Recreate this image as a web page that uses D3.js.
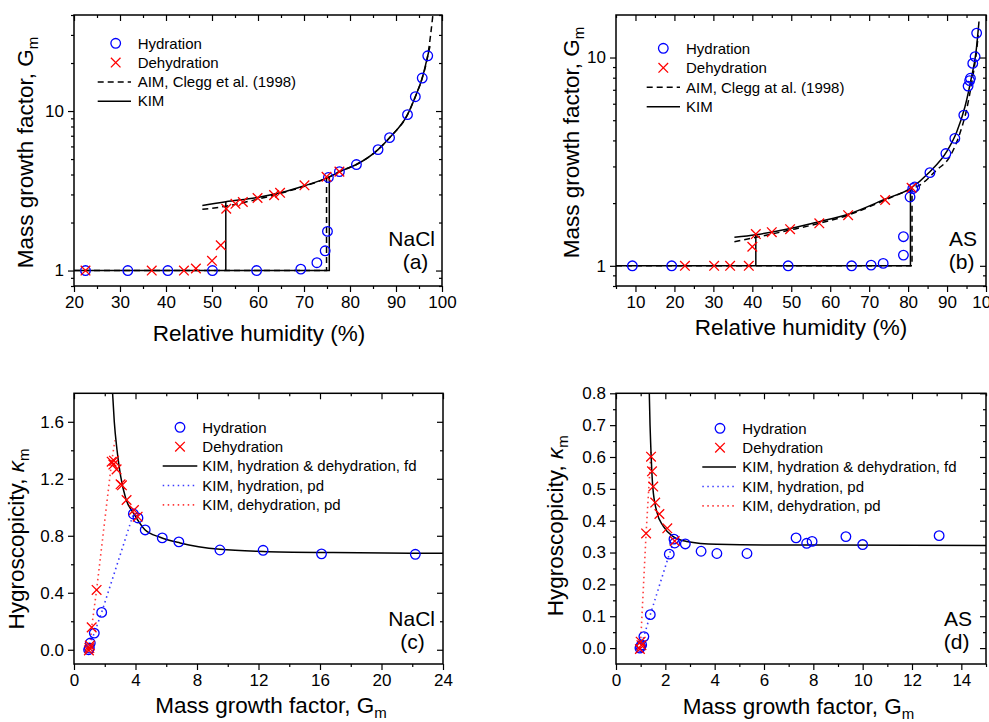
<!DOCTYPE html>
<html>
<head>
<meta charset="utf-8">
<script src="https://cdn.jsdelivr.net/npm/d3@7"></script>
<style>
  body { margin: 0; background: #fff; }
  svg { display: block; }
</style>
</head>
<body>
<div id="wrapper"></div>
<script>
// ---- values ----

// (a) NaCl: mass growth factor vs relative humidity, [RH %, Gm]
const naclHydration = [[22.5,1.0],[31.7,1.0],[40.4,1.0],[50.1,1.0],[59.7,1.0],[69.3,1.02],[72.8,1.12],[74.6,1.33],[75.1,1.76],[75.3,3.83],[77.7,4.17],[81.4,4.62],[86.1,5.73],[88.6,6.81],[92.5,9.49],[94.2,12.3],[95.7,16.1],[96.9,22.2]]
const naclDehydration = [[22.5,1.0],[36.9,1.0],[43.9,1.0],[46.5,1.03],[50.0,1.15],[51.9,1.44],[53.1,2.44],[55.1,2.62],[56.7,2.69],[59.9,2.85],[63.5,2.97],[64.8,3.07],[70.1,3.42],[74.9,3.87],[77.7,4.17]]
const naclKimCurve = [[47.9,2.56],[53.0,2.70],[59.9,2.87],[64.8,3.07],[70.1,3.40],[75.4,3.85],[77.7,4.17],[81.4,4.62],[86.1,5.73],[88.6,6.81],[92.5,9.49],[94.2,12.3],[95.7,16.1],[96.9,22.2],[97.4,25.5]]
const naclKimLower = [[20,1],[75.5,1],[75.5,3.85]]
const naclKimEfflorescence = [[53.0,1],[53.0,2.70]]
const naclAimCurve = [[47.9,2.42],[53.0,2.53],[59.9,2.80],[64.8,3.04],[70.1,3.38],[75.4,3.85],[77.7,4.17],[81.4,4.62],[86.1,5.73],[88.6,6.81],[92.5,9.49],[94.2,12.3],[95.7,16.1],[96.9,22.2],[98.1,42]]
const naclAimLower = [[20,1],[74.9,1],[74.9,3.85]]

// (b) AS: mass growth factor vs relative humidity, [RH %, Gm]
const asHydration = [[9.2,1.0],[19.3,1.0],[49.2,1.0],[65.5,1.0],[70.5,1.008],[73.6,1.027],[78.8,1.126],[78.8,1.38],[80.5,2.14],[81.2,2.35],[81.7,2.39],[85.6,2.80],[89.7,3.46],[92.0,4.09],[94.3,5.29],[95.4,7.29],[95.8,7.75],[96.0,7.95],[96.6,9.37],[97.2,10.1],[97.6,13.1]]
const asDehydration = [[22.7,1.0],[30.2,1.0],[34.3,1.0],[39.1,1.0],[40.0,1.235],[40.9,1.42],[45.0,1.45],[49.7,1.50],[57.2,1.60],[64.6,1.75],[74.1,2.07],[80.9,2.37]]
const asKimCurve = [[35.4,1.37],[40.9,1.41],[49.7,1.51],[57.2,1.63],[64.6,1.77],[74.1,2.09],[80.5,2.35],[85.6,2.83],[89.9,3.53],[92.5,4.40],[94.6,5.80],[96.3,8.1],[97.4,10.5],[98.2,14.9]]
const asKimLower = [[5,1],[80.6,1],[80.6,2.35]]
const asKimEfflorescence = [[40.9,1],[40.9,1.41]]
const asAimCurve = [[35.4,1.305],[40.9,1.37],[49.7,1.485],[57.2,1.60],[64.6,1.75],[74.1,2.07],[80.5,2.33],[83.0,2.44],[87.3,2.88],[90.7,3.34],[93.3,4.33],[95.0,5.6],[96.3,7.5],[97.6,10.9],[98.0,12.8]]
const asAimLower = [[5,1],[81.0,1],[81.0,2.33]]

// (c) NaCl: hygroscopicity vs mass growth factor, [Gm, kappa]
const naclKappaHydration = [[0.95,0.0],[1.0,0.012],[1.06,0.047],[1.32,0.117],[1.80,0.262],[3.86,0.953],[4.16,0.925],[4.63,0.841],[5.74,0.785],[6.82,0.757],[9.49,0.70],[12.3,0.698],[16.1,0.673],[22.2,0.670]]
const naclKappaDehydration = [[0.97,-0.005],[1.0,0.012],[1.03,0.03],[1.15,0.157],[1.47,0.42],[2.45,1.32],[2.60,1.327],[2.56,1.30],[2.77,1.266],[3.03,1.161],[3.12,1.154],[3.42,1.051],[3.90,0.981],[4.14,0.934]]
const naclKimFd = [[2.51,1.80],[2.62,1.60],[2.80,1.40],[3.03,1.22],[3.37,1.06],[3.86,0.96],[4.63,0.84],[5.6,0.79],[6.9,0.75],[9.5,0.705],[12.3,0.69],[16.85,0.682],[24,0.677]]
const naclKimHydPd = [[0.95,0.0],[1.06,0.047],[1.32,0.117],[1.80,0.262],[3.86,0.953]]
const naclKimDehPd = [[0.95,0.0],[1.04,0.03],[1.15,0.157],[1.47,0.42],[2.45,1.32],[2.66,1.47]]

// (d) AS: hygroscopicity vs mass growth factor, [Gm, kappa]
const asKappaHydration = [[0.97,0.0],[1.0,0.005],[1.04,0.01],[1.13,0.036],[1.39,0.105],[2.16,0.295],[2.35,0.342],[2.38,0.33],[2.81,0.327],[3.45,0.304],[4.09,0.297],[5.31,0.297],[7.30,0.346],[7.73,0.329],[7.95,0.335],[9.32,0.35],[10.0,0.325],[13.1,0.353]]
const asKappaDehydration = [[0.97,-0.003],[1.03,0.009],[1.0,0.02],[1.22,0.36],[1.42,0.601],[1.46,0.555],[1.51,0.507],[1.59,0.457],[1.76,0.421],[2.08,0.376],[2.38,0.336]]
const asKimFd = [[1.35,0.80],[1.38,0.70],[1.41,0.633],[1.49,0.507],[1.65,0.429],[1.92,0.382],[2.32,0.350],[2.86,0.335],[4.08,0.326],[6.1,0.324],[8.8,0.324],[15,0.322]]
const asKimHydPd = [[0.97,0.0],[1.13,0.036],[1.39,0.105],[2.16,0.295],[2.40,0.345]]
const asKimDehPd = [[0.97,0.0],[1.0,0.02],[1.22,0.36],[1.42,0.62]]

// ticks
const rhMajorA = [20,30,40,50,60,70,80,90,100]
const rhMinorA = [25,35,45,55,65,75,85,95]
const rhMajorB = [10,20,30,40,50,60,70,80,90,100]
const rhMinorB = [5,15,25,35,45,55,65,75,85,95]
const gLogMajor = [1,10]
const gLogMinorA = [0.8,0.9,2,3,4,5,6,7,8,9,20,30,40]
const gLogMinorB = [0.8,0.9,2,3,4,5,6,7,8,9]
const gMajorC = [0,4,8,12,16,20,24]
const gMinorC = [2,6,10,14,18,22]
const kappaMajorC = [0,0.4,0.8,1.2,1.6]
const kappaMinorC = [0.2,0.6,1.0,1.4]
const gMajorD = [0,2,4,6,8,10,12,14]
const gMinorD = [1,3,5,7,9,11,13,15]
const kappaMajorD = [0,0.1,0.2,0.3,0.4,0.5,0.6,0.7,0.8]
const kappaMinorD = [0.05,0.15,0.25,0.35,0.45,0.55,0.65,0.75]

// legend texts
const legendTop = ["Hydration", "Dehydration", "AIM, Clegg et al. (1998)", "KIM"]
const legendTopB = ["Hydration", "Dehydration", "AIM, Clegg at al. (1998)", "KIM"]
const legendBottom = ["Hydration", "Dehydration", "KIM, hydration & dehydration, fd", "KIM, hydration, pd", "KIM, dehydration, pd"]

// ---- drawing ----

const FONT = '"Liberation Sans", Arial, Helvetica, sans-serif'
const BLUE = "#0000ff"
const RED = "#ff0000"

const styles = {
  solid: { color: "#000", dash: null, width: 1.5 },
  dashed: { color: "#000", dash: "6,4", width: 1.5 },
  dotBlue: { color: "#3a3aff", dash: "1.5,3.5", width: 1.6 },
  dotRed: { color: "#ff3a3a", dash: "1.5,3.5", width: 1.6 },
}

const svg = d3.select("#wrapper")
  .append("svg")
    .attr("width", 989)
    .attr("height", 722)
    .style("font-family", FONT)

function drawPanel(cfg) {
  const box = cfg.box

  const xScale = d3.scaleLinear()
    .domain(cfg.xDomain)
    .range([box.left, box.right])
  const yScale = (cfg.logY ? d3.scaleLog() : d3.scaleLinear())
    .domain(cfg.yDomain)
    .range([box.bottom, box.top])

  const panel = svg.append("g")
  panel.append("clipPath")
      .attr("id", "clip-" + cfg.id)
    .append("rect")
      .attr("x", box.left)
      .attr("y", box.top)
      .attr("width", box.right - box.left)
      .attr("height", box.bottom - box.top)
  const plot = panel.append("g").attr("clip-path", `url(#clip-${cfg.id})`)

  const straight = d3.line().x(d => xScale(d[0])).y(d => yScale(d[1]))
  const smooth = d3.line().x(d => xScale(d[0])).y(d => yScale(d[1])).curve(d3.curveMonotoneX)

  // lines
  cfg.lines.forEach(l => {
    const st = styles[l.style]
    plot.append("path")
      .datum(l.data)
      .attr("d", l.smooth ? smooth : straight)
      .attr("fill", "none")
      .attr("stroke", st.color)
      .attr("stroke-width", st.width)
      .attr("stroke-dasharray", st.dash)
  })

  // markers
  plot.selectAll("circle.hyd")
    .data(cfg.hydration)
    .join("circle")
      .attr("class", "hyd")
      .attr("cx", d => xScale(d[0]))
      .attr("cy", d => yScale(d[1]))
      .attr("r", 4.8)
      .attr("fill", "none")
      .attr("stroke", BLUE)
      .attr("stroke-width", 1.3)

  plot.selectAll("path.deh")
    .data(cfg.dehydration)
    .join("path")
      .attr("class", "deh")
      .attr("d", d => crossPath(xScale(d[0]), yScale(d[1])))
      .attr("fill", "none")
      .attr("stroke", RED)
      .attr("stroke-width", 1.3)

  // axes: labelled bottom/left with outward ticks, mirrored top/right inward
  const blank = () => ""
  const addAxis = (axis, transform, values, size, fmt) => {
    const g = panel.append("g")
        .attr("transform", transform)
      .call(axis.tickValues(values).tickSizeInner(size).tickSizeOuter(0).tickPadding(4).tickFormat(fmt))
    g.select(".domain").remove()
    g.attr("font-family", null).attr("font-size", null)
    g.selectAll("line").attr("stroke", "#000").attr("stroke-width", 1.2)
    g.selectAll("text").attr("fill", "#000").style("font-size", "17px")
  }
  addAxis(d3.axisBottom(xScale), `translate(0,${box.bottom})`, cfg.xMinor, 3, blank)
  addAxis(d3.axisBottom(xScale), `translate(0,${box.bottom})`, cfg.xMajor, 6, cfg.xFormat)
  addAxis(d3.axisTop(xScale), `translate(0,${box.top})`, cfg.xMinor, -3, blank)
  addAxis(d3.axisTop(xScale), `translate(0,${box.top})`, cfg.xMajor, -6, blank)
  addAxis(d3.axisLeft(yScale), `translate(${box.left},0)`, cfg.yMinor, 3, blank)
  addAxis(d3.axisLeft(yScale), `translate(${box.left},0)`, cfg.yMajor, 6, cfg.yFormat)
  addAxis(d3.axisRight(yScale), `translate(${box.right},0)`, cfg.yMinor, -3, blank)
  addAxis(d3.axisRight(yScale), `translate(${box.right},0)`, cfg.yMajor, -6, blank)

  panel.append("rect")
      .attr("x", box.left)
      .attr("y", box.top)
      .attr("width", box.right - box.left)
      .attr("height", box.bottom - box.top)
      .attr("fill", "none")
      .attr("stroke", "#000")
      .attr("stroke-width", 1.5)

  // legend
  const L = cfg.legendPos
  const legend = panel.append("g").style("font-size", "15px")
  cfg.legend.forEach((entry, i) => {
    const y = L.y0 + i * L.dy
    if (entry.type === "circle") {
      legend.append("circle")
          .attr("cx", L.symX).attr("cy", y).attr("r", 4.8)
          .attr("fill", "none").attr("stroke", BLUE).attr("stroke-width", 1.3)
    } else if (entry.type === "cross") {
      legend.append("path")
          .attr("d", crossPath(L.symX, y))
          .attr("fill", "none").attr("stroke", RED).attr("stroke-width", 1.3)
    } else {
      const st = styles[entry.type]
      legend.append("line")
          .attr("x1", L.lineX0).attr("x2", L.lineX1)
          .attr("y1", y).attr("y2", y)
          .attr("stroke", st.color)
          .attr("stroke-width", st.width)
          .attr("stroke-dasharray", st.dash)
    }
    legend.append("text")
        .attr("x", L.textX)
        .attr("y", y)
        .attr("dy", "0.35em")
        .attr("fill", "#000")
        .text(entry.label)
  })

  // sample name and panel letter
  panel.append("text")
      .attr("x", cfg.tag.x).attr("y", cfg.tag.y)
      .attr("text-anchor", "end")
      .style("font-size", "21px")
      .text(cfg.tag.name)
  panel.append("text")
      .attr("x", cfg.tag.x2).attr("y", cfg.tag.y + 23)
      .attr("text-anchor", "middle")
      .style("font-size", "21px")
      .text(cfg.tag.letter)

  // axis titles
  const xt = panel.append("text")
      .attr("x", cfg.xTitle.x).attr("y", cfg.xTitle.y)
      .attr("text-anchor", "middle")
      .style("font-size", "22.5px")
  xt.append("tspan").text(cfg.xTitle.text)
  if (cfg.xTitle.sub) xt.append("tspan").attr("dy", "0.32em").style("font-size", "15px").text(cfg.xTitle.sub)

  const yt = panel.append("text")
      .attr("transform", `translate(${cfg.yTitle.x},${cfg.yTitle.y}) rotate(-90)`)
      .attr("text-anchor", "middle")
      .style("font-size", "22.5px")
  yt.append("tspan").text(cfg.yTitle.text)
  if (cfg.yTitle.greek) yt.append("tspan").style("font-style", "italic").text(cfg.yTitle.greek)
  yt.append("tspan").attr("dy", "0.32em").style("font-size", "15px").text(cfg.yTitle.sub)
}

function crossPath(cx, cy) {
  const s = 4.8
  return `M${cx - s},${cy - s}L${cx + s},${cy + s}M${cx - s},${cy + s}L${cx + s},${cy - s}`
}

const legendTypesTop = ["circle", "cross", "dashed", "solid"]
const legendTypesBottom = ["circle", "cross", "solid", "dotBlue", "dotRed"]

// (a)
drawPanel({
  id: "a",
  box: { left: 74, right: 442, top: 15, bottom: 286 },
  xDomain: [20, 100], yDomain: [0.8, 40], logY: true,
  xMajor: rhMajorA, xMinor: rhMinorA, yMajor: gLogMajor, yMinor: gLogMinorA,
  xFormat: d => d, yFormat: d => d,
  hydration: naclHydration, dehydration: naclDehydration,
  lines: [
    { data: naclAimLower, style: "dashed" },
    { data: naclAimCurve, style: "dashed", smooth: true },
    { data: naclKimLower, style: "solid" },
    { data: naclKimEfflorescence, style: "solid" },
    { data: naclKimCurve, style: "solid", smooth: true },
  ],
  legend: legendTop.map((label, i) => ({ label, type: legendTypesTop[i] })),
  legendPos: { symX: 115.7, lineX0: 97.7, lineX1: 131, textX: 137.7, y0: 43.3, dy: 19.3 },
  tag: { name: "NaCl", letter: "(a)", x: 435, x2: 415.5, y: 246 },
  xTitle: { text: "Relative humidity (%)", x: 259, y: 341 },
  yTitle: { text: "Mass growth factor,  G", sub: "m", x: 33, y: 152.5 },
})

// (b)
drawPanel({
  id: "b",
  box: { left: 616, right: 986, top: 15, bottom: 286 },
  xDomain: [5, 100], yDomain: [0.8, 16], logY: true,
  xMajor: rhMajorB, xMinor: rhMinorB, yMajor: gLogMajor, yMinor: gLogMinorB,
  xFormat: d => d, yFormat: d => d,
  hydration: asHydration, dehydration: asDehydration,
  lines: [
    { data: asAimLower, style: "dashed" },
    { data: asAimCurve, style: "dashed", smooth: true },
    { data: asKimLower, style: "solid" },
    { data: asKimEfflorescence, style: "solid" },
    { data: asKimCurve, style: "solid", smooth: true },
  ],
  legend: legendTopB.map((label, i) => ({ label, type: legendTypesTop[i] })),
  legendPos: { symX: 663.3, lineX0: 646.7, lineX1: 680, textX: 686, y0: 48.3, dy: 19.5 },
  tag: { name: "AS", letter: "(b)", x: 977, x2: 961.7, y: 246 },
  xTitle: { text: "Relative humidity (%)", x: 801, y: 334.5 },
  yTitle: { text: "Mass growth factor,  G", sub: "m", x: 578.8, y: 142.5 },
})

// (c)
drawPanel({
  id: "c",
  box: { left: 74, right: 443, top: 393.3, bottom: 664 },
  xDomain: [0, 24], yDomain: [-0.1, 1.8], logY: false,
  xMajor: gMajorC, xMinor: gMinorC, yMajor: kappaMajorC, yMinor: kappaMinorC,
  xFormat: d => d, yFormat: d3.format(".1f"),
  hydration: naclKappaHydration, dehydration: naclKappaDehydration,
  lines: [
    { data: naclKimHydPd, style: "dotBlue" },
    { data: naclKimDehPd, style: "dotRed" },
    { data: naclKimFd, style: "solid", smooth: true },
  ],
  legend: legendBottom.map((label, i) => ({ label, type: legendTypesBottom[i] })),
  legendPos: { symX: 180, lineX0: 162.7, lineX1: 197.3, textX: 202.3, y0: 427.3, dy: 19.4 },
  tag: { name: "NaCl", letter: "(c)", x: 435, x2: 412.5, y: 626 },
  xTitle: { text: "Mass growth factor, G", sub: "m", x: 271, y: 712.8 },
  yTitle: { text: "Hygroscopicity,  ", greek: "\u03ba", sub: "m", x: 24.4, y: 539 },
})

// (d)
drawPanel({
  id: "d",
  box: { left: 616, right: 986, top: 393.3, bottom: 664 },
  xDomain: [0, 15], yDomain: [-0.05, 0.8], logY: false,
  xMajor: gMajorD, xMinor: gMinorD, yMajor: kappaMajorD, yMinor: kappaMinorD,
  xFormat: d => d, yFormat: d3.format(".1f"),
  hydration: asKappaHydration, dehydration: asKappaDehydration,
  lines: [
    { data: asKimHydPd, style: "dotBlue" },
    { data: asKimDehPd, style: "dotRed" },
    { data: asKimFd, style: "solid", smooth: true },
  ],
  legend: legendBottom.map((label, i) => ({ label, type: legendTypesBottom[i] })),
  legendPos: { symX: 720, lineX0: 702.3, lineX1: 736, textX: 742.3, y0: 428.3, dy: 19.4 },
  tag: { name: "AS", letter: "(d)", x: 972, x2: 956.7, y: 626 },
  xTitle: { text: "Mass growth factor, G", sub: "m", x: 798.5, y: 714 },
  yTitle: { text: "Hygroscopicity,  ", greek: "\u03ba", sub: "m", x: 562.8, y: 525.8 },
})
</script>
</body>
</html>
